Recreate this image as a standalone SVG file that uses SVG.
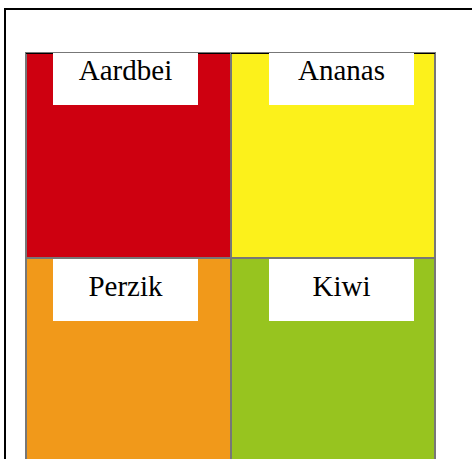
<svg xmlns="http://www.w3.org/2000/svg" width="472" height="459" viewBox="0 0 472 459">
<style>
.cell{stroke:#777;stroke-width:2}
.top{stroke:#000;stroke-width:1}
.lbl{fill:#fff}
.t{font-family:"Liberation Serif","Times New Roman",serif;font-size:29px;fill:#000;text-anchor:middle}
</style>
<defs>
<clipPath id="c1"><rect x="25" y="53" width="206" height="205"/></clipPath>
<clipPath id="c2"><rect x="231" y="53" width="205" height="205"/></clipPath>
</defs>
<rect x="0" y="0" width="472" height="459" fill="#fff"/>
<rect x="5" y="9" width="480" height="470" fill="none" stroke="#000" stroke-width="2"/>
<g id="aardbei">
<rect class="cell" x="26" y="53" width="205" height="205" fill="#CE0010"/>
<line class="top" x1="26" y1="53.5" x2="231" y2="53.5"/>
<rect class="lbl" x="53" y="43" width="145" height="62" clip-path="url(#c1)"/>
<text class="t" x="125.5" y="80">Aardbei</text>
</g>
<g id="ananas">
<rect class="cell" x="231" y="53" width="204" height="205" fill="#FCF11B"/>
<line class="top" x1="231" y1="53.5" x2="435" y2="53.5"/>
<rect class="lbl" x="269" y="43" width="145" height="62" clip-path="url(#c2)"/>
<text class="t" x="341.5" y="80">Ananas</text>
</g>
<g id="perzik">
<rect class="cell" x="26" y="258" width="205" height="210" fill="#F1991A"/>
<rect class="lbl" x="53" y="259" width="145" height="62"/>
<text class="t" x="125.5" y="296">Perzik</text>
</g>
<g id="kiwi">
<rect class="cell" x="231" y="258" width="204" height="210" fill="#97C41F"/>
<rect class="lbl" x="269" y="259" width="145" height="62"/>
<text class="t" x="341.5" y="296">Kiwi</text>
</g>
</svg>
